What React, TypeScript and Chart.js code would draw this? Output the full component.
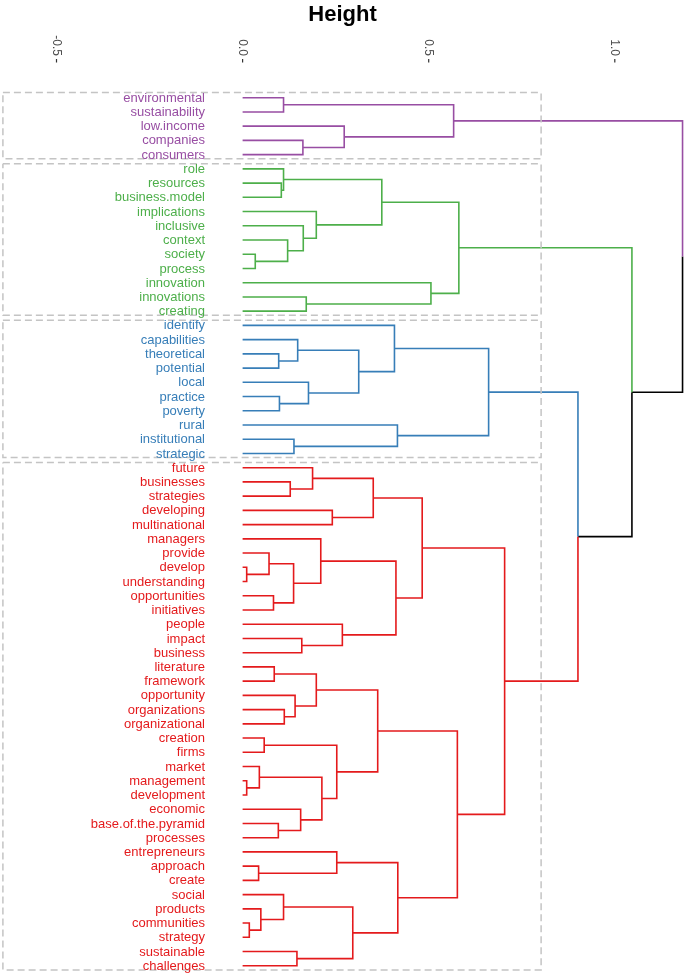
import React, { useEffect, useRef } from "react";
import { Chart, registerables } from "chart.js";

Chart.register(...registerables);

// ---------- data ----------
const leafLabels = [
  "environmental", "sustainability", "low.income", "companies", "consumers",
  "role", "resources", "business.model", "implications", "inclusive", "context",
  "society", "process", "innovation", "innovations", "creating",
  "identify", "capabilities", "theoretical", "potential", "local", "practice",
  "poverty", "rural", "institutional", "strategic",
  "future", "businesses", "strategies", "developing", "multinational", "managers",
  "provide", "develop", "understanding", "opportunities", "initiatives", "people",
  "impact", "business", "literature", "framework", "opportunity", "organizations",
  "organizational", "creation", "firms", "market", "management", "development",
  "economic", "base.of.the.pyramid", "processes", "entrepreneurs", "approach",
  "create", "social", "products", "communities", "strategy", "sustainable",
  "challenges",
];

// cluster of each leaf (0 purple, 1 green, 2 blue, 3 red)
const leafCluster = [
  0, 0, 0, 0, 0,
  1, 1, 1, 1, 1, 1, 1, 1, 1, 1, 1,
  2, 2, 2, 2, 2, 2, 2, 2, 2, 2,
  3, 3, 3, 3, 3, 3, 3, 3, 3, 3, 3, 3, 3, 3, 3, 3, 3, 3, 3, 3, 3, 3, 3, 3, 3, 3,
  3, 3, 3, 3, 3, 3, 3, 3, 3, 3,
];

const clusterColors = ["#984EA3", "#4DAF4A", "#377EB8", "#E41A1C"];
const mixedColor = "#000000";

// hclust-style merges: negative = leaf (-(index+1)), positive = earlier merge (1-based)
const mergeA = [
  -1, -4, -3, 1, -7, -6, -12, -11, -10, -9,
  6, -15, -14, 11, -19, -18, -22, -21, 16, -17,
  -25, -24, 20, -28, -27, -30, 25, -34, -33, -36,
  29, -32, -39, -38, 32, 27, -41, -44, -43, 37,
  -46, -49, -48, -52, -51, 43, 41, 40, -55, -54,
  -59, -58, -57, -61, 53, 50, 48, 36, 23, 14,
  4,
];
const mergeB = [
  -2, -5, 2, 3, -8, 5, -13, 7, 8, 9,
  10, -16, 12, 13, -20, 15, -23, 17, 18, 19,
  -26, 21, 22, -29, 24, -31, 26, -35, 28, -37,
  30, 31, -40, 33, 34, 35, -42, -45, 38, 39,
  -47, -50, 42, -53, 44, 45, 46, 47, -56, 49,
  -60, 51, 52, -62, 54, 55, 56, 57, 58, 59,
  60,
];
const mergeHeight = [
  0.110, 0.162, 0.273, 0.567, 0.104, 0.110, 0.034, 0.121, 0.163, 0.198,
  0.374, 0.171, 0.506, 0.581, 0.097, 0.148, 0.099, 0.177, 0.312, 0.408,
  0.138, 0.416, 0.661, 0.128, 0.188, 0.241, 0.351, 0.011, 0.071, 0.083,
  0.137, 0.210, 0.159, 0.268, 0.412, 0.4825, 0.085, 0.112, 0.141, 0.198,
  0.058, 0.011, 0.045, 0.096, 0.156, 0.213, 0.253, 0.363, 0.043, 0.253,
  0.018, 0.049, 0.110, 0.146, 0.296, 0.417, 0.577, 0.704, 0.901, 1.046,
  1.182,
];

const xTickValues = [-0.5, 0, 0.5, 1.0];
const xTickLabels = ["-0.5", "0.0", "0.5", "1.0"];
const axisTitle = "Height";

// cluster rectangle extents in height units
const rectLeft = -0.644;
const rectRight = 0.802;

// ---------- build geometry from the tree ----------
type Pt = { x: number | null; y: number | null };

function buildTree() {
  const n = mergeHeight.length;
  const nodeY: number[] = [];
  const nodeC: number[] = [];
  const info = (ref: number) => {
    if (ref < 0) {
      const i = -ref - 1;
      return { y: i, h: 0, c: leafCluster[i] };
    }
    return { y: nodeY[ref - 1], h: mergeHeight[ref - 1], c: nodeC[ref - 1] };
  };
  const segs: Pt[][] = [[], [], [], [], []]; // 4 clusters + mixed
  for (let k = 0; k < n; k++) {
    const a = info(mergeA[k]);
    const b = info(mergeB[k]);
    const y = (a.y + b.y) / 2;
    nodeY[k] = y;
    nodeC[k] = a.c === b.c ? a.c : -1;
    const h = mergeHeight[k];
    for (const ch of [a, b]) {
      const arr = segs[ch.c >= 0 ? ch.c : 4];
      arr.push({ x: ch.h, y: ch.y }, { x: h, y: ch.y }, { x: h, y }, { x: null, y: null });
    }
  }
  return segs;
}

function buildRects(): Pt[] {
  const pts: Pt[] = [];
  for (let c = 0; c < clusterColors.length; c++) {
    const idx = leafCluster.map((v, i) => (v === c ? i : -1)).filter((i) => i >= 0);
    const top = idx[0] - 0.36;
    const bottom = idx[idx.length - 1] + 0.29;
    pts.push(
      { x: rectLeft, y: top },
      { x: rectRight, y: top },
      { x: rectRight, y: bottom },
      { x: rectLeft, y: bottom },
      { x: rectLeft, y: top },
      { x: null, y: null }
    );
  }
  return pts;
}

const FONT = '"Liberation Sans", Arial, Helvetica, sans-serif';

const labelPlugin = {
  id: "dendroLabels",
  afterDraw(chart: any) {
    const ctx = chart.ctx;
    const xs = chart.scales.x;
    const ys = chart.scales.y;
    ctx.save();
    // title
    ctx.fillStyle = "#000000";
    ctx.font = `bold 22px ${FONT}`;
    ctx.textAlign = "center";
    ctx.textBaseline = "alphabetic";
    ctx.fillText(axisTitle, chart.width / 2, 21);
    // ticks (rotated clockwise)
    ctx.font = `12px ${FONT}`;
    xTickValues.forEach((v, i) => {
      const px = xs.getPixelForValue(v);
      ctx.save();
      ctx.translate(px, 56);
      ctx.rotate(Math.PI / 2);
      ctx.textAlign = "right";
      ctx.textBaseline = "middle";
      ctx.fillStyle = "#4D4D4D";
      ctx.fillText(xTickLabels[i], 0, 0);
      ctx.restore();
      ctx.strokeStyle = "#333333";
      ctx.lineWidth = 1.2;
      ctx.beginPath();
      ctx.moveTo(px, 59);
      ctx.lineTo(px, 62.5);
      ctx.stroke();
    });
    // leaf labels
    ctx.font = `13px ${FONT}`;
    ctx.textAlign = "right";
    ctx.textBaseline = "middle";
    const lx = xs.getPixelForValue(-0.101);
    leafLabels.forEach((lab, i) => {
      ctx.fillStyle = clusterColors[leafCluster[i]];
      ctx.fillText(lab, lx, ys.getPixelForValue(i) + 0.5);
    });
    ctx.restore();
  },
};

export default function App() {
  const ref = useRef<HTMLCanvasElement | null>(null);
  useEffect(() => {
    if (!ref.current) return;
    const segs = buildTree();
    const lineDs = (data: Pt[], color: string) => ({
      data,
      showLine: true,
      spanGaps: false,
      borderColor: color,
      backgroundColor: color,
      borderWidth: 1.6,
      pointRadius: 0,
      pointHoverRadius: 0,
      clip: false as any,
      borderJoinStyle: "miter" as const,
    });
    const datasets: any[] = [
      {
        ...lineDs(buildRects(), "#C4C4C4"),
        borderWidth: 1.5,
        borderDash: [7, 4],
      },
      ...clusterColors.map((c, i) => lineDs(segs[i], c)),
      lineDs(segs[4], mixedColor),
    ];
    const chart = new Chart(ref.current, {
      type: "scatter",
      data: { datasets },
      options: {
        animation: false,
        responsive: false,
        maintainAspectRatio: false,
        devicePixelRatio: 1,
        layout: { padding: { top: 80, left: 0, right: 0, bottom: 0 } },
        plugins: { legend: { display: false }, tooltip: { enabled: false } },
        events: [],
        scales: {
          x: { type: "linear", display: false, min: -0.6518, max: 1.1886 },
          y: { type: "linear", display: false, reverse: true, min: -1.244, max: 61.65 },
        },
      },
      plugins: [labelPlugin],
    });
    return () => chart.destroy();
  }, []);
  return (
    <div style={{ position: "absolute", left: 0, top: 0, width: 685, height: 975, background: "#ffffff" }}>
      <canvas ref={ref} width={685} height={975} style={{ display: "block" }} />
    </div>
  );
}
